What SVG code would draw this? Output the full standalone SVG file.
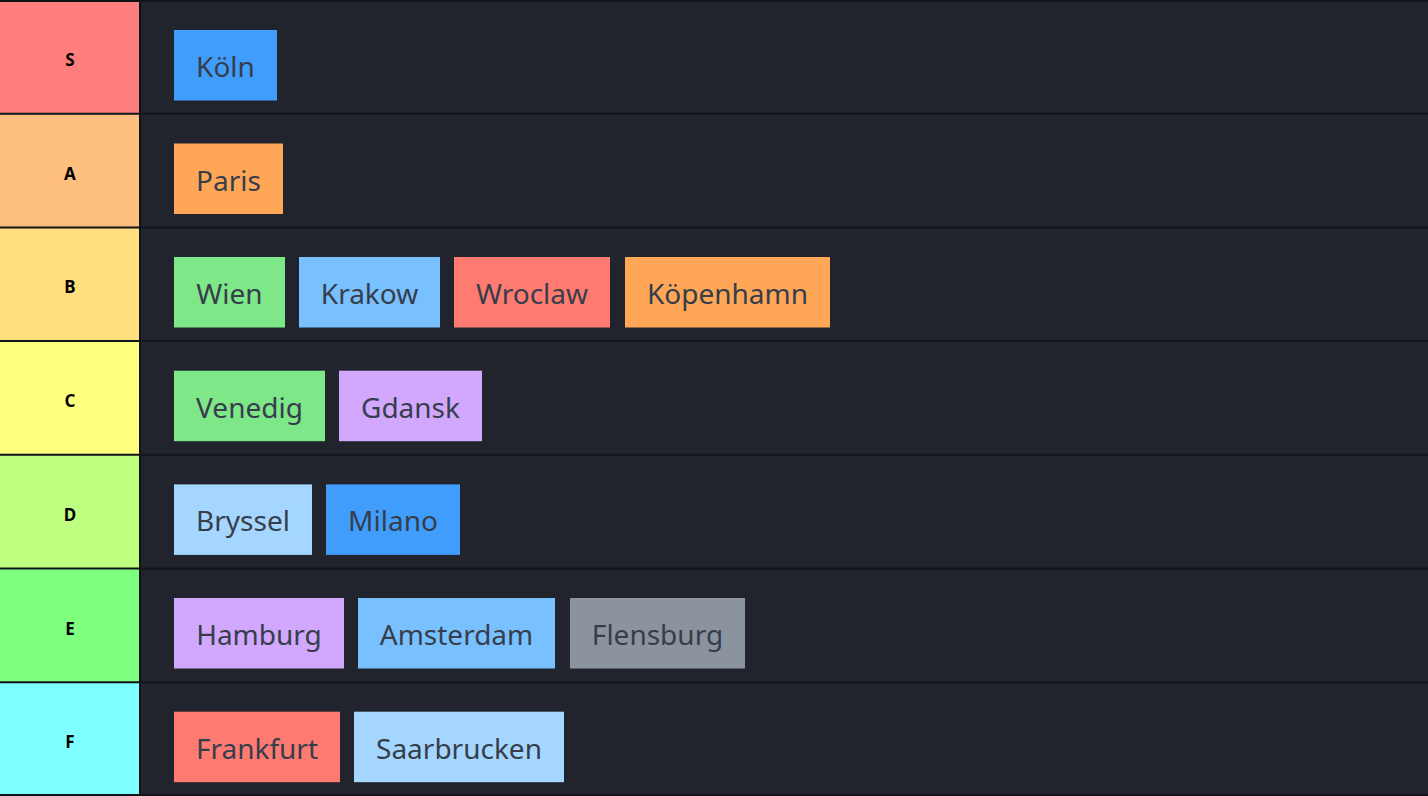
<svg xmlns="http://www.w3.org/2000/svg" width="1428" height="796" viewBox="0 0 1428 796">
<style>
.lbl{font-family:"Noto Sans","Open Sans",sans-serif;font-weight:bold;font-size:17px;fill:#000;text-anchor:middle;dominant-baseline:central}
.t{font-family:"Noto Sans","Open Sans",sans-serif;font-size:28px;fill:#363e4b;text-anchor:middle;dominant-baseline:central}
.sep{stroke:#111318;stroke-width:2}
</style>
<rect x="0" y="0" width="1428" height="796" fill="#21242c"/>
<g id="tier-S"><rect x="0" y="0" width="139" height="113.7" fill="#ff7f7f"/><text class="lbl" x="70" y="59">S</text></g>
<g id="tier-A"><rect x="0" y="113.7" width="139" height="113.7" fill="#ffbf7f"/><text class="lbl" x="70" y="173">A</text></g>
<g id="tier-B"><rect x="0" y="227.4" width="139" height="113.7" fill="#ffdf7f"/><text class="lbl" x="70" y="286">B</text></g>
<g id="tier-C"><rect x="0" y="341.1" width="139" height="113.7" fill="#ffff7f"/><text class="lbl" x="70" y="400">C</text></g>
<g id="tier-D"><rect x="0" y="454.8" width="139" height="113.7" fill="#bfff7f"/><text class="lbl" x="70" y="514">D</text></g>
<g id="tier-E"><rect x="0" y="568.5" width="139" height="113.7" fill="#7fff7f"/><text class="lbl" x="70" y="628">E</text></g>
<g id="tier-F"><rect x="0" y="682.2" width="139" height="113.8" fill="#7fffff"/><text class="lbl" x="70" y="741">F</text></g>
<g id="separators">
<line class="sep" x1="0" y1="1" x2="1428" y2="1"/>
<line class="sep" x1="0" y1="113.7" x2="1428" y2="113.7"/>
<line class="sep" x1="0" y1="227.4" x2="1428" y2="227.4"/>
<line class="sep" x1="0" y1="341.1" x2="1428" y2="341.1"/>
<line class="sep" x1="0" y1="454.8" x2="1428" y2="454.8"/>
<line class="sep" x1="0" y1="568.5" x2="1428" y2="568.5"/>
<line class="sep" x1="0" y1="682.2" x2="1428" y2="682.2"/>
<line class="sep" x1="0" y1="795" x2="1428" y2="795"/>
<line class="sep" x1="140" y1="0" x2="140" y2="796"/>
</g>
<g id="item-koln"><rect x="174" y="30" width="103" height="70.5" fill="#409dfc"/><text class="t" x="225.5" y="66">Köln</text></g>
<g id="item-paris"><rect x="174" y="143.5" width="109" height="70.5" fill="#ffa657"/><text class="t" x="228.5" y="180">Paris</text></g>
<g id="item-wien"><rect x="174" y="257" width="111" height="70.5" fill="#7ee787"/><text class="t" x="229.5" y="293">Wien</text></g>
<g id="item-krakow"><rect x="299" y="257" width="141" height="70.5" fill="#79c0ff"/><text class="t" x="369.5" y="293">Krakow</text></g>
<g id="item-wroclaw"><rect x="454" y="257" width="156" height="70.5" fill="#ff7b72"/><text class="t" x="532" y="293">Wroclaw</text></g>
<g id="item-kopenhamn"><rect x="625" y="257" width="205" height="70.5" fill="#ffa657"/><text class="t" x="727.5" y="293">Köpenhamn</text></g>
<g id="item-venedig"><rect x="174" y="370.7" width="151" height="70.5" fill="#7ee787"/><text class="t" x="249.5" y="407">Venedig</text></g>
<g id="item-gdansk"><rect x="339" y="370.7" width="143" height="70.5" fill="#d2a8ff"/><text class="t" x="410.5" y="407">Gdansk</text></g>
<g id="item-bryssel"><rect x="174" y="484.4" width="138" height="70.5" fill="#a5d6ff"/><text class="t" x="243" y="520">Bryssel</text></g>
<g id="item-milano"><rect x="326" y="484.4" width="134" height="70.5" fill="#409dfc"/><text class="t" x="393" y="520">Milano</text></g>
<g id="item-hamburg"><rect x="174" y="598" width="170" height="70.5" fill="#d2a8ff"/><text class="t" x="259" y="634">Hamburg</text></g>
<g id="item-amsterdam"><rect x="358" y="598" width="197" height="70.5" fill="#79c0ff"/><text class="t" x="456.5" y="634">Amsterdam</text></g>
<g id="item-flensburg"><rect x="570" y="598" width="175" height="70.5" fill="#8b949e"/><text class="t" x="657.5" y="634">Flensburg</text></g>
<g id="item-frankfurt"><rect x="174" y="711.7" width="166" height="70.5" fill="#ff7b72"/><text class="t" x="257" y="748">Frankfurt</text></g>
<g id="item-saarbrucken"><rect x="354" y="711.7" width="210" height="70.5" fill="#a5d6ff"/><text class="t" x="459" y="748">Saarbrucken</text></g>
</svg>
